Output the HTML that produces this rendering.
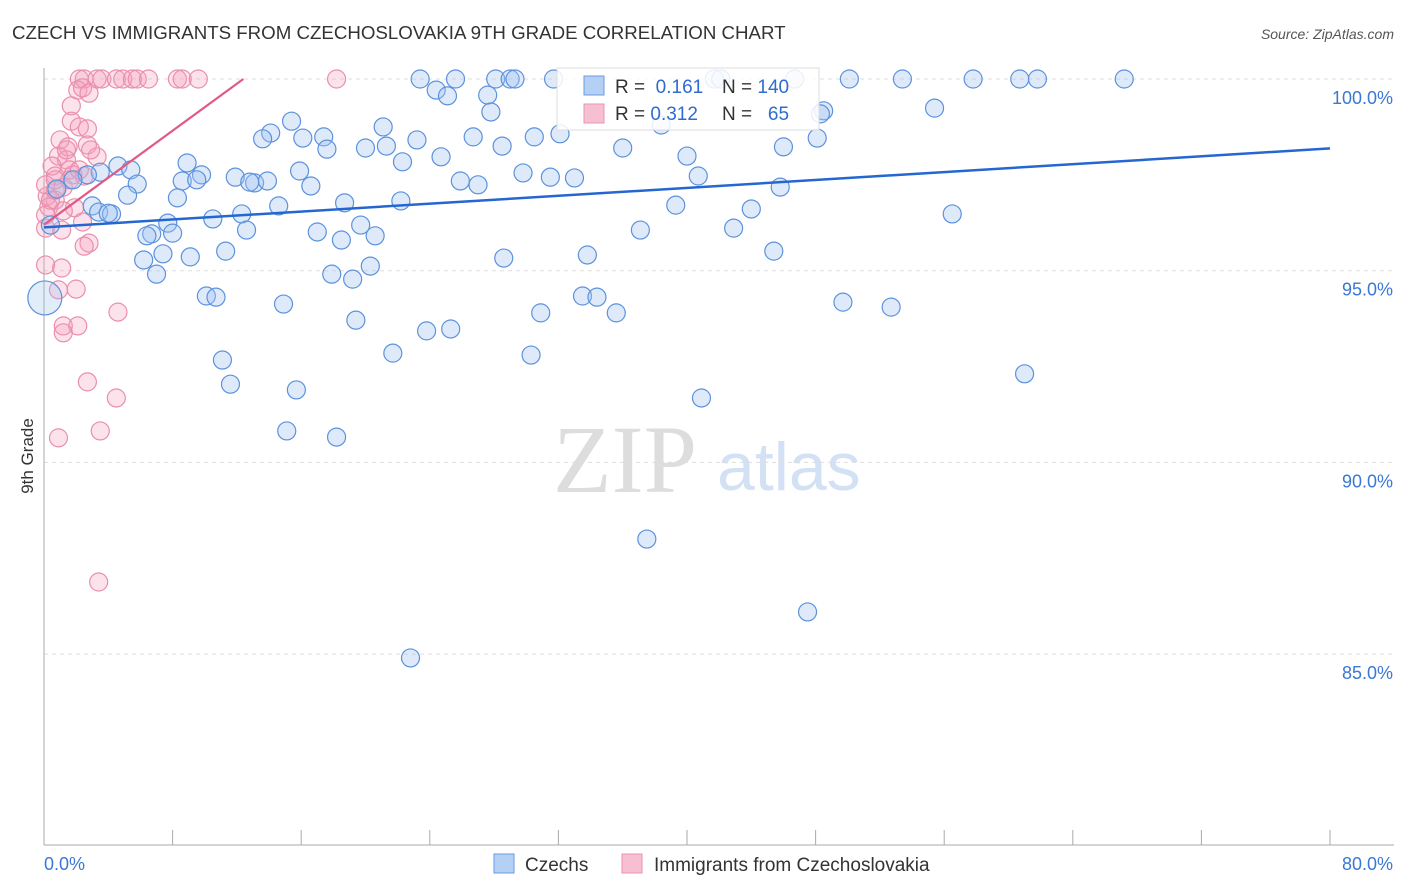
<!DOCTYPE html>
<html><head><meta charset="utf-8"><style>
body{margin:0;background:#fff;font-family:"Liberation Sans",sans-serif;}
svg{display:block}
</style></head><body>
<svg id="chart" width="1406" height="892">
<text x="12" y="39" font-size="18.7" fill="#333">CZECH VS IMMIGRANTS FROM CZECHOSLOVAKIA 9TH GRADE CORRELATION CHART</text>
<text x="1394" y="39" font-size="14" fill="#555" font-style="italic" text-anchor="end">Source: ZipAtlas.com</text>
<text x="33" y="456" font-size="17" fill="#333" transform="rotate(-90 33 456)" text-anchor="middle">9th Grade</text>
<g>
<text x="553" y="492" font-size="96" font-family="Liberation Serif,serif" fill="#ddd">ZIP</text>
<text x="717" y="490" font-size="68" fill="#d3e1f5">atlas</text>
</g>
<g id="grid"></g><g id="axes"></g><g id="pts"></g><g id="lines"></g>
<g>
<rect x="557" y="68" width="262" height="62" fill="#fff" fill-opacity="0.85" stroke="#ddd"/>
<rect x="584" y="76" width="20" height="19" fill="#b4d0f5" stroke="#6a9be0"/>
<rect x="584" y="104" width="20" height="19" fill="#f7bfd2" stroke="#e996b2"/>
<text x="615" y="93" font-size="19" fill="#333">R = <tspan fill="#2f6bd0">&#160;0.161</tspan></text>
<text x="722" y="93" font-size="19" fill="#333">N = <tspan fill="#2f6bd0">140</tspan></text>
<text x="615" y="120" font-size="19" fill="#333">R = <tspan fill="#2f6bd0">0.312</tspan></text>
<text x="722" y="120" font-size="19" fill="#333">N = <tspan fill="#2f6bd0">&#160;&#160;65</tspan></text>
</g>
<g>
<rect x="494" y="854" width="20" height="19" fill="#b4d0f5" stroke="#6a9be0"/>
<text x="525" y="871" font-size="19" fill="#333">Czechs</text>
<rect x="622" y="854" width="20" height="19" fill="#f7bfd2" stroke="#e996b2"/>
<text x="654" y="871" font-size="19" fill="#333">Immigrants from Czechoslovakia</text>
</g>
</svg>
<script>
const yTicks=[100,95,90,85];
const yTickLabels=["100.0%","95.0%","90.0%","85.0%"];
const xEndLabels=["0.0%","80.0%"];
const blueX=[23.4,25.6,28.1,29.0,29.3,31.7,41.7,42.1,46.7,50.1,53.4,57.8,60.7,61.8,67.2,24.4,25.1,27.6,27.8,48.5,48.3,55.4,15.4,21.1,14.1,13.6,16.1,17.4,17.6,23.2,26.7,28.5,30.5,32.1,20.0,21.3,24.7,22.3,36.0,38.4,40.0,46.0,48.1,8.9,4.6,5.4,3.5,2.7,9.8,15.9,16.6,8.6,9.5,5.8,11.9,13.1,13.9,12.8,25.9,27.0,29.8,31.5,33.0,40.7,45.8,0.8,1.8,5.2,8.3,18.7,22.2,14.6,3.0,3.4,4.2,4.0,7.7,10.5,12.3,19.7,39.3,44.0,56.5,12.6,6.7,6.4,8.0,17.0,18.5,20.6,37.1,42.9,0.4,6.2,7.4,9.1,11.3,7.0,17.9,19.2,20.3,28.6,33.8,45.4,10.1,10.7,14.9,33.5,34.4,19.4,23.8,25.3,30.9,35.6,49.7,52.7,11.1,11.6,15.7,21.7,30.3,61.0,40.9,15.1,18.2,37.5,47.5,22.8];
const blueY=[100,100,100,100,100,100,100,100,100,100,100,100,100,100,100,99.71,99.56,99.58,99.14,99.17,99.09,99.24,98.90,98.75,98.59,98.44,98.46,98.49,98.17,98.41,98.49,98.25,98.49,98.57,98.20,98.25,97.97,97.84,98.20,98.80,97.99,98.23,98.46,97.81,97.73,97.63,97.57,97.50,97.50,97.60,97.21,97.34,97.37,97.26,97.44,97.29,97.34,97.31,97.34,97.24,97.55,97.44,97.42,97.47,97.18,97.13,97.37,96.97,96.90,96.77,96.82,96.69,96.69,96.53,96.48,96.50,96.24,96.35,96.48,96.19,96.71,96.61,96.48,96.06,95.96,95.91,95.98,96.01,95.80,95.91,96.06,96.11,96.19,95.28,95.44,95.36,95.51,94.91,94.91,94.78,95.12,95.33,95.41,95.51,94.34,94.31,94.13,94.34,94.31,93.71,93.43,93.48,93.90,93.90,94.18,94.05,92.67,92.04,91.89,92.85,92.80,92.31,91.68,90.82,90.66,88.00,86.10,84.90];
const blueBigX=[0.05];
const blueBigY=[94.29];
const pinkX=[2.2,2.5,3.3,3.6,4.5,4.9,5.5,5.8,6.5,8.3,8.6,9.6,18.2,2.1,2.4,2.8,1.7,1.7,2.2,2.7,1.0,1.5,2.7,0.9,1.4,3.3,0.5,1.6,1.8,0.7,2.5,1.2,0.2,0.7,1.9,0.3,1.2,2.4,0.1,2.8,2.5,0.1,1.1,2.0,0.9,4.6,1.2,2.1,1.2,2.7,4.5,0.9,3.5,3.4,0.4,1.6,0.1,0.7,2.9,1.1,0.1,2.2,1.4,0.7];
const pinkY=[100,100,100,100,100,100,100,100,100,100,100,100,100,99.71,99.77,99.63,99.30,98.90,98.75,98.70,98.41,98.23,98.28,97.99,97.89,97.97,97.73,97.63,97.50,97.47,97.47,97.18,96.95,96.84,96.64,96.66,96.56,96.27,96.11,95.72,95.64,95.15,95.07,94.52,94.50,93.92,93.56,93.56,93.38,92.10,91.68,90.64,90.82,86.88,96.84,97.37,96.45,97.10,98.15,96.06,97.24,97.63,98.15,97.37];
const blueTrend=[[0,96.13],[80,98.19]];
const pinkTrend=[[0,96.2],[12.4,100]];

const NS="http://www.w3.org/2000/svg";
const X0=44,X1=1330,Y100=79,PX5=191.7;
function sx(v){return X0+(X1-X0)*v/80;}
function sy(v){return Y100+(100-v)*PX5/5;}
function mk(tag,attrs,parent){const e=document.createElementNS(NS,tag);for(const k in attrs)e.setAttribute(k,attrs[k]);document.getElementById(parent).appendChild(e);return e;}

yTicks.forEach((t,i)=>{
  const l=mk('line',{x1:X0,x2:1394,y1:sy(t),y2:sy(t),stroke:'#ddd','stroke-dasharray':'4,4'},'grid');
  
  
  const tx=mk('text',{x:1393,y:sy(t)+25,'font-size':18,fill:'#3a78d4','text-anchor':'end'},'grid');
  tx.textContent=yTickLabels[i];
  
  
});
const ax=mk('line',{x1:X0,x2:X0,y1:68,y2:845,stroke:'#aaa'},'axes');


const bx=mk('line',{x1:X0,x2:1394,y1:845,y2:845,stroke:'#aaa'},'axes');


for(let i=0;i<=10;i++){
  const t=mk('line',{x1:sx(i*8),x2:sx(i*8),y1:830,y2:845,stroke:'#aaa'},'axes');
  
  
}
const xl0=mk('text',{x:44,y:870,'font-size':18,fill:'#3a78d4'},'axes');xl0.textContent=xEndLabels[0];


const xl1=mk('text',{x:1393,y:870,'font-size':18,fill:'#3a78d4','text-anchor':'end'},'axes');xl1.textContent=xEndLabels[1];



pinkX.forEach((x,i)=>{
  const c=mk('circle',{cx:sx(x),cy:sy(pinkY[i]),r:9,fill:'rgba(244,160,190,0.3)',stroke:'#e98fae','stroke-width':1.2},'pts');
  
  
});
blueX.forEach((x,i)=>{
  const c=mk('circle',{cx:sx(x),cy:sy(blueY[i]),r:9,fill:'rgba(160,196,240,0.35)',stroke:'#5c92dc','stroke-width':1.2},'pts');
  
  
});
blueBigX.forEach((x,i)=>{
  const c=mk('circle',{cx:sx(x),cy:sy(blueBigY[i]),r:17,fill:'rgba(160,196,240,0.3)',stroke:'#5c92dc','stroke-width':1.2},'pts');
  
  
});
const bl=mk('line',{x1:sx(blueTrend[0][0]),y1:sy(blueTrend[0][1]),x2:sx(blueTrend[1][0]),y2:sy(blueTrend[1][1]),stroke:'#2467d0','stroke-width':2.5},'lines');


const pl=mk('line',{x1:sx(pinkTrend[0][0]),y1:sy(pinkTrend[0][1]),x2:sx(pinkTrend[1][0]),y2:sy(pinkTrend[1][1]),stroke:'#e05a85','stroke-width':2.2},'lines');


</script>
</body></html>
